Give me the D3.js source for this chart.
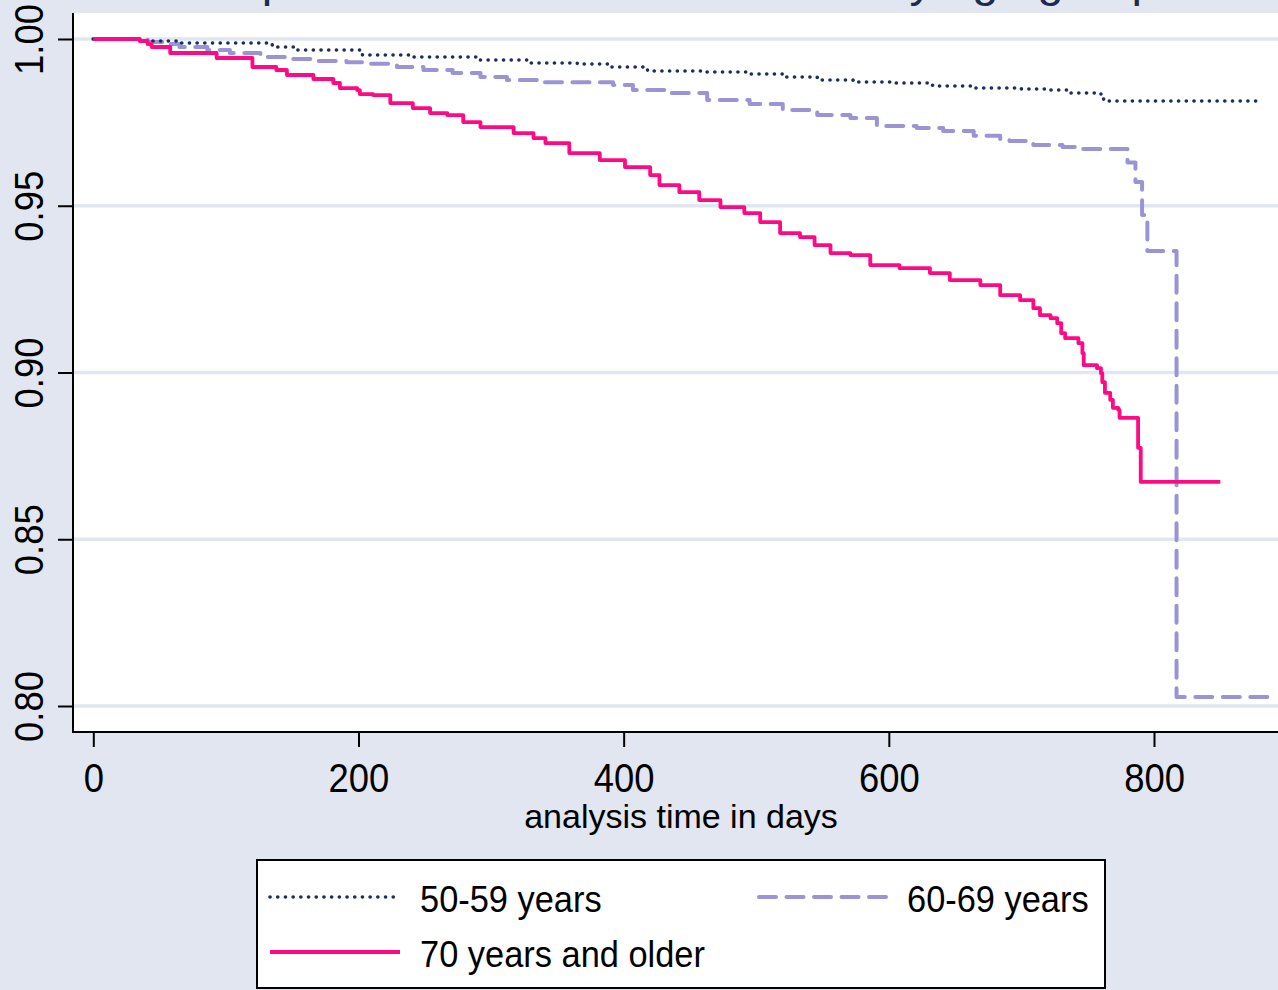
<!DOCTYPE html>
<html><head><meta charset="utf-8">
<script src="https://cdn.jsdelivr.net/npm/d3@7"></script>
<style>body{margin:0;background:#e1e6f1}svg{display:block}</style>
</head><body><svg id="c" width="1278" height="990"></svg>
<script>
// ---- data ----
const titleText = "Kaplan-Meier survival estimates by age group";
const xAxisTitle = "analysis time in days";
const seriesNames = ["50-59 years", "60-69 years", "70 years and older"];
const xTicks = [0, 200, 400, 600, 800];
const yTicks = [0.80, 0.85, 0.90, 0.95, 1.00];
const yTickLabels = ["0.80", "0.85", "0.90", "0.95", "1.00"];

const times5059 = [0, 35, 63, 135, 154, 203, 241, 292, 329, 365, 390, 415, 418, 458, 495, 520, 546, 573, 603, 633, 664, 700, 719, 737, 760, 762, 882];
const surv5059  = [1, .9994, .9988, .9976, .9967, .9952, .9946, .9937, .9928, .9925, .9916, .9913, .9904, .9901, .9895, .9886, .9877, .9871, .9868, .9859, .9853, .9850, .9847, .9838, .9826, .9814, .9814];

const times6069 = [0, 41, 58, 65, 86, 103, 126, 146, 166, 191, 209, 229, 249, 271, 292, 312, 337, 392, 407, 433, 463, 495, 520, 546, 571, 591, 621, 641, 664, 684, 691, 709, 731, 744, 780, 786, 791, 795, 817, 889];
const surv6069  = [1, .9991, .9985, .9976, .9967, .9958, .9946, .9940, .9934, .9930, .9926, .9916, .9907, .9898, .9886, .9877, .9870, .9862, .9847, .9838, .9817, .9805, .9787, .9772, .9763, .9739, .9733, .9724, .9710, .9700, .9694, .9682, .9676, .9670, .9630, .9571, .9472, .9364, .8027, .8027];

const times70 = [0, 35, 41, 44, 58, 93, 120, 138, 146, 166, 181, 186, 199, 201, 211, 224, 241, 254, 267, 279, 292, 317, 332, 341, 359, 382, 401, 420, 427, 442, 457, 473, 491, 503, 518, 533, 544, 556, 571, 586, 608, 631, 646, 669, 684, 699, 709, 714, 722, 727, 730, 733, 743, 746, 747, 757, 760, 761, 763, 767, 769, 773, 774, 788, 790, 850];
const surv70  = [1, .9994, .9985, .9976, .9958, .9943, .9916, .9907, .9892, .9880, .9868, .9853, .9847, .9835, .9832, .9808, .9793, .9778, .9772, .9751, .9736, .9718, .9703, .9688, .9658, .9637, .9616, .9592, .9562, .9541, .9517, .9496, .9478, .9451, .9418, .9406, .9382, .9358, .9352, .9322, .9313, .9298, .9277, .9262, .9232, .9217, .9193, .9172, .9163, .9148, .9118, .9103, .9088, .9058, .9022, .9013, .8998, .8971, .8939, .8918, .8894, .8888, .8864, .8774, .8672, .8672];

const seriesColors = ["#1c2d5c", "#9a94d6", "#ff0a84"];

// ---- layout ----
const W = 1278, H = 990;
const plot = {left: 73, top: 13, right: 1278, bottom: 732};
const svg = d3.select("#c");
const bg = "#e1e6f1";
svg.append("rect").attr("width", W).attr("height", H).attr("fill", bg);

// title (mostly cut off at top, only descenders visible as in the reference)
svg.append("text").attr("x", 681).attr("y", -4).attr("text-anchor", "middle")
  .attr("font-family", "Liberation Sans, Arial, sans-serif").attr("font-size", 47)
  .attr("fill", "#1e2a50").text(titleText);

svg.append("rect").attr("x", plot.left).attr("y", plot.top)
  .attr("width", plot.right - plot.left).attr("height", plot.bottom - plot.top).attr("fill", "#fff");

const x = d3.scaleLinear().domain([0, 800]).range([93.3, 1154]);
const y = d3.scaleLinear().domain([0.8, 1.0]).range([706, 39]);

// grid
svg.append("g").selectAll("line").data(yTicks).join("line")
  .attr("x1", plot.left).attr("x2", plot.right)
  .attr("y1", d => y(d)).attr("y2", d => y(d))
  .attr("stroke", bg).attr("stroke-width", 3.5);

// series
const lineGen = d3.line().x(d => x(d[0])).y(d => y(d[1])).curve(d3.curveStepAfter);
const seriesData = [
  d3.zip(times5059, surv5059),
  d3.zip(times6069, surv6069),
  d3.zip(times70, surv70)
];
const styles = [
  {w: 3.6, dash: "0.1,7.6", cap: "round"},
  {w: 4, dash: "17,10.5", cap: "round"},
  {w: 3.8, dash: null, cap: "butt"}
];
svg.append("clipPath").attr("id", "pc").append("rect")
  .attr("x", plot.left).attr("y", plot.top).attr("width", plot.right - plot.left).attr("height", plot.bottom - plot.top);
const gS = svg.append("g").attr("clip-path", "url(#pc)");
[1, 0, 2].forEach(i => {
  gS.append("path").datum(seriesData[i]).attr("d", lineGen)
    .attr("fill", "none").attr("stroke", seriesColors[i])
    .attr("stroke-width", styles[i].w)
    .attr("stroke-dasharray", styles[i].dash)
    .attr("stroke-linecap", styles[i].cap)
    .attr("stroke-linejoin", "round");
});

// axes
const fontFam = "Liberation Sans, Arial, sans-serif";
const yAxis = svg.append("g").attr("transform", `translate(${plot.left},0)`)
  .call(d3.axisLeft(y).tickValues(yTicks).tickFormat((d, i) => yTickLabels[i]).tickSize(15).tickSizeOuter(0));
yAxis.select(".domain").remove();
yAxis.selectAll(".tick line").attr("stroke", "#000").attr("stroke-width", 2);
yAxis.selectAll(".tick text")
  .attr("transform", "rotate(-90) scale(0.91,1)")
  .attr("x", 0).attr("y", -30).attr("dy", 0)
  .attr("text-anchor", "middle")
  .attr("font-family", fontFam).attr("font-size", 40).attr("fill", "#000");

const xAxis = svg.append("g").attr("transform", `translate(0,${plot.bottom})`)
  .call(d3.axisBottom(x).tickValues(xTicks).tickFormat(d3.format("d")).tickSize(15).tickSizeOuter(0));
xAxis.select(".domain").remove();
xAxis.selectAll(".tick line").attr("stroke", "#000").attr("stroke-width", 2);
xAxis.selectAll(".tick text")
  .attr("y", 60).attr("dy", 0)
  .attr("transform", "scale(0.91,1)")
  .attr("font-family", fontFam).attr("font-size", 40).attr("fill", "#000");

svg.append("line").attr("x1", plot.left).attr("x2", plot.left).attr("y1", plot.top).attr("y2", plot.bottom + 1)
  .attr("stroke", "#000").attr("stroke-width", 2);
svg.append("line").attr("x1", plot.left - 1).attr("x2", plot.right).attr("y1", plot.bottom).attr("y2", plot.bottom)
  .attr("stroke", "#000").attr("stroke-width", 2);

svg.append("text").attr("x", 681).attr("y", 828).attr("text-anchor", "middle")
  .attr("font-family", fontFam).attr("font-size", 34).attr("fill", "#000").text(xAxisTitle);

// legend
svg.append("rect").attr("x", 257).attr("y", 860).attr("width", 848).attr("height", 128)
  .attr("fill", "#fff").attr("stroke", "#000").attr("stroke-width", 2);
const legPos = [[270, 897], [757, 897], [270, 952]];
seriesNames.forEach((name, i) => {
  const [lx, ly] = legPos[i];
  svg.append("line").attr("x1", lx + (i === 1 ? 2 : 0)).attr("x2", lx + 130).attr("y1", ly).attr("y2", ly)
    .attr("stroke", seriesColors[i]).attr("stroke-width", styles[i].w)
    .attr("stroke-dasharray", styles[i].dash).attr("stroke-linecap", styles[i].cap);
  svg.append("text").attr("transform", `translate(${lx + 150},${ly + 15}) scale(0.93,1)`)
    .attr("font-family", fontFam).attr("font-size", 37).attr("fill", "#000").text(name);
});
</script></body></html>
